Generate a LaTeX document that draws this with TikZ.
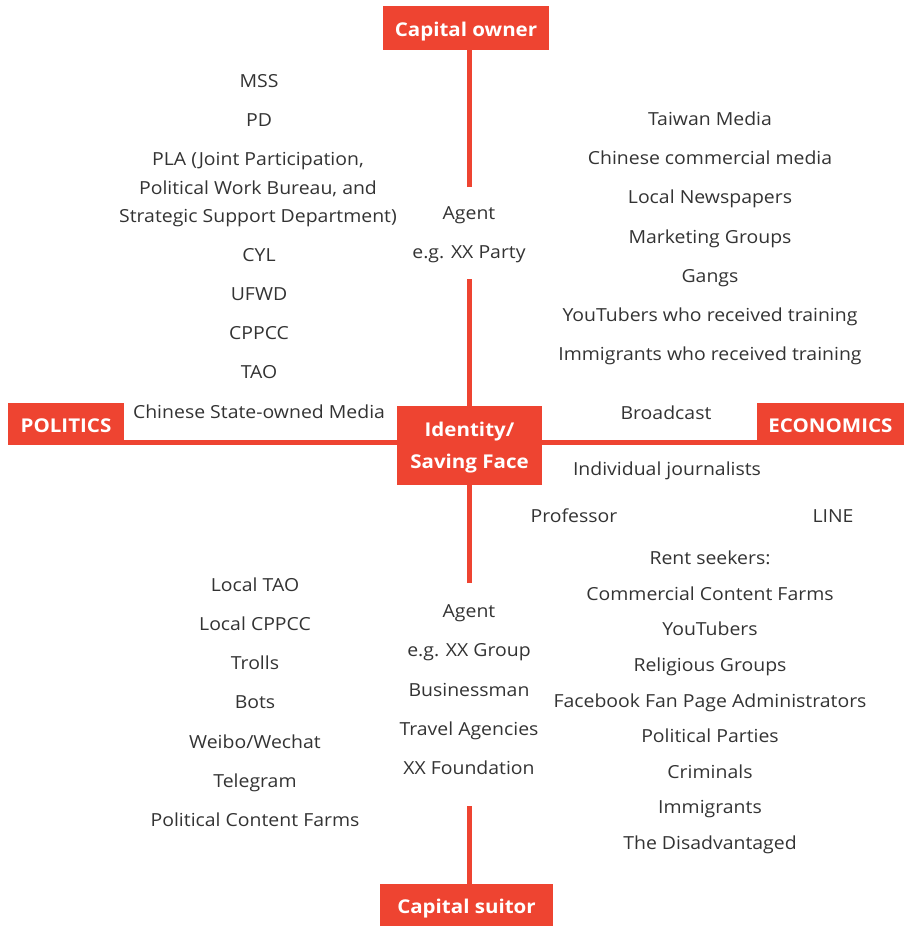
\documentclass[tikz,border=0pt]{standalone}
\usepackage{fontspec}
\setmainfont{Open Sans}[FakeStretch=1.08]
\definecolor{accent}{HTML}{EE4431}
\definecolor{txt}{HTML}{333333}
\begin{document}
\begin{tikzpicture}[x=1pt,y=-1pt,
  lbl/.style={fill=accent,text=white,font=\fontsize{19}{22}\selectfont\bfseries,inner sep=0pt,align=center,text height=17pt,text depth=0pt},
  itm/.style={text=txt,font=\fontsize{18}{20}\selectfont,inner sep=0pt,anchor=center,text height=14.5pt,text depth=0pt},
  axis/.style={draw=accent,line width=5pt}]
\useasboundingbox (0,0) rectangle (904,927);
% label boxes
\node[lbl,minimum width=166,minimum height=44] (capown) at (466,28) {Capital owner};
\node[fill=accent,text=white,inner sep=0pt,align=center,text depth=0pt,minimum width=145,minimum height=79,font=\fontsize{19}{32}\selectfont\bfseries] (core) at (469.5,445.5) {Identity/\\Saving Face};
\node[lbl,minimum width=116,minimum height=42] (pol) at (66,424) {POLITICS};
\node[lbl,minimum width=147,minimum height=42] (eco) at (830.5,424) {ECONOMICS};
\node[lbl,minimum width=173,minimum height=42] (suitor) at (466.5,905) {Capital suitor};
% axis break points
\coordinate (t1) at (469,187);
\coordinate (t2) at (469,279);
\coordinate (b1) at (469,583);
\coordinate (b2) at (469,806);
\draw[axis] (t1) -- (t1 |- capown.south);
\draw[axis] (t2) -- (t2 |- core.north);
\draw[axis] (b1) -- (b1 |- core.south);
\draw[axis] (b2) -- (b2 |- suitor.north);
\coordinate (hy) at (0,442.5);
\draw[axis] (pol.east |- hy) -- (core.west |- hy);
\draw[axis] (core.east |- hy) -- (eco.west |- hy);
% top left
\node[itm] (mss) at (259,80) {MSS};
\node[itm] (pd) at (259,119) {PD};
\node[text=txt,inner sep=0pt,align=center,text depth=0pt,font=\fontsize{18}{28.5}\selectfont] (pla) at (258,187.5) {PLA (Joint Participation,\\Political Work Bureau, and\\Strategic Support Department)};
\node[itm] (cyl) at (259,254) {CYL};
\node[itm] (ufwd) at (259,293) {UFWD};
\node[itm] (cppcc) at (259,332) {CPPCC};
\node[itm] (tao) at (259,371) {TAO};
\node[itm] (csm) at (259,411) {Chinese State-owned Media};
% top center
\node[itm] (agent1) at (469,212) {Agent};
\node[itm] (party) at (469,251) {e.g. XX Party};
% top right
\node[itm] (twm) at (710,118) {Taiwan Media};
\node[itm] (ccm) at (710,157) {Chinese commercial media};
\node[itm] (lnp) at (710,196) {Local Newspapers};
\node[itm] (mkt) at (710,236) {Marketing Groups};
\node[itm] (gang) at (710,275) {Gangs};
\node[itm] (ytt) at (710,314) {YouTubers who received training};
\node[itm] (imt) at (710,353) {Immigrants who received training};
% middle right
\node[itm] (bc) at (666,412) {Broadcast};
\node[itm] (ij) at (667,468) {Individual journalists};
\node[itm] (prof) at (574,515) {Professor};
\node[itm] (line) at (833,515) {LINE};
% bottom right
\node[itm] (rent) at (710,557) {Rent seekers:};
\node[itm] (ccf) at (710,593) {Commercial Content Farms};
\node[itm] (yt) at (710,628) {YouTubers};
\node[itm] (rg) at (710,664) {Religious Groups};
\node[itm] (fb) at (710,700) {Facebook Fan Page Administrators};
\node[itm] (pp) at (710,735) {Political Parties};
\node[itm] (crim) at (710,771) {Criminals};
\node[itm] (imm) at (710,806) {Immigrants};
\node[itm] (dis) at (710,842) {The Disadvantaged};
% bottom left
\node[itm] (ltao) at (255,584) {Local TAO};
\node[itm] (lcppcc) at (255,623) {Local CPPCC};
\node[itm] (trolls) at (255,662) {Trolls};
\node[itm] (bots) at (255,701) {Bots};
\node[itm] (wb) at (255,741) {Weibo/Wechat};
\node[itm] (tg) at (255,780) {Telegram};
\node[itm] (pcf) at (255,819) {Political Content Farms};
% bottom center
\node[itm] (agent2) at (469,610) {Agent};
\node[itm] (grp) at (469,649) {e.g. XX Group};
\node[itm] (biz) at (469,689) {Businessman};
\node[itm] (trav) at (469,728) {Travel Agencies};
\node[itm] (fdn) at (469,767) {XX Foundation};
\end{tikzpicture}
\end{document}
